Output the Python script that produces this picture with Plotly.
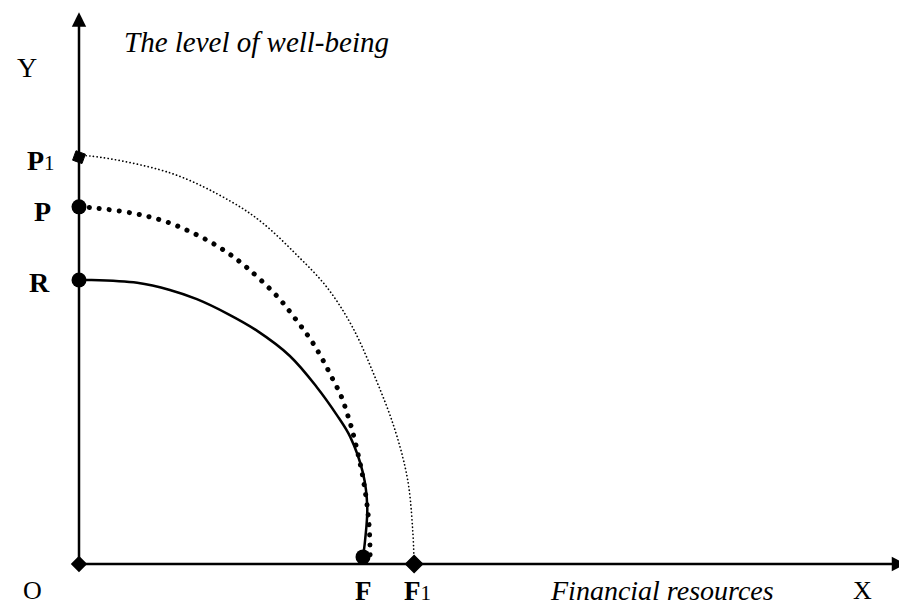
import plotly.graph_objects as go

# ---- data (chart units; origin O = (0, 0)) ----
solid_x = [0, 0.15, 0.82, 1.28, 1.66, 2.10, 2.50, 2.97, 3.35, 3.63, 3.82, 4.00, 4.06, 4.03, 4.00]
solid_y = [4.00, 4.00, 3.96, 3.86, 3.73, 3.52, 3.29, 2.93, 2.49, 2.10, 1.79, 1.28, 0.80, 0.34, 0.10]

dotted_x = [0, 0.17, 0.76, 1.20, 1.61, 2.01, 2.37, 2.80, 3.08, 3.27, 3.42, 3.56, 3.69, 3.79, 3.87, 4.00, 4.08, 4.10, 4.10]
dotted_y = [5.03, 5.02, 4.94, 4.83, 4.66, 4.44, 4.17, 3.76, 3.41, 3.15, 2.90, 2.63, 2.37, 2.08, 1.80, 1.21, 0.62, 0.17, 0.06]

thin_x = [0, 0.08, 1.28, 2.15, 2.59, 3.07, 3.49, 3.85, 4.17, 4.45, 4.63, 4.70, 4.72]
thin_y = [5.73, 5.75, 5.51, 5.10, 4.80, 4.35, 3.90, 3.34, 2.63, 1.89, 1.18, 0.48, 0.00]

circle_x = [0, 0, 4.00]          # R, P, F
circle_y = [4.00, 5.03, 0.10]
p1_point = (0, 5.73)
f1_point = (4.72, 0)
o_point = (0, 0)

y_axis_tip = 7.77
x_axis_tip = 11.65

FONT = "Liberation Serif, Times New Roman, serif"

fig = go.Figure()

fig.add_trace(go.Scatter(x=thin_x, y=thin_y, mode="lines",
                         line=dict(color="black", width=1.7, dash="0.1px,3.6px",
                                   shape="spline", smoothing=1.0)))
fig.add_trace(go.Scatter(x=dotted_x, y=dotted_y, mode="lines",
                         line=dict(color="black", width=5, dash="0.1px,10px",
                                   shape="spline", smoothing=1.0)))
fig.add_trace(go.Scatter(x=solid_x, y=solid_y, mode="lines",
                         line=dict(color="black", width=2.5,
                                   shape="spline", smoothing=1.0)))

fig.add_trace(go.Scatter(x=circle_x, y=circle_y, mode="markers",
                         marker=dict(symbol="circle", size=15, color="black")))
fig.add_trace(go.Scatter(x=[p1_point[0]], y=[p1_point[1]], mode="markers",
                         marker=dict(symbol="square", size=10, color="black", angle=20,
                                     line=dict(color="black", width=1))))
fig.add_trace(go.Scatter(x=[f1_point[0]], y=[f1_point[1]], mode="markers",
                         marker=dict(symbol="diamond", size=13, color="#000000", opacity=1,
                                     line=dict(color="#000000", width=1.5))))
fig.add_trace(go.Scatter(x=[o_point[0]], y=[o_point[1]], mode="markers",
                         marker=dict(symbol="diamond", size=11, color="#000000", opacity=1,
                                     line=dict(color="#000000", width=1.5))))

# axes with arrows
for tip in [(0, y_axis_tip), (x_axis_tip, 0)]:
    fig.add_annotation(x=tip[0], y=tip[1], ax=0, ay=0, axref="x", ayref="y",
                       xref="x", yref="y", text="", showarrow=True,
                       arrowhead=2, arrowsize=1.15, arrowwidth=2.5, arrowcolor="black")

def label(x, y, text, anchor="center", size=28):
    fig.add_annotation(x=x, y=y, xref="x", yref="y", text=text, showarrow=False,
                       xanchor=anchor, yanchor="middle",
                       font=dict(family=FONT, size=size, color="black"))

small = "<span style='font-size:21px'>1</span>"
label(-0.73, 6.99, "Y")
label(0.61, 7.35, "<i>The level of well-being</i>", anchor="left", size=29)
label(-0.54, 5.69, "<b>P</b>" + small)
label(-0.51, 4.96, "<b>P</b>")
label(-0.55, 3.96, "<b>R</b>")
label(-0.65, -0.37, "O", size=26)
label(4.00, -0.38, "<b>F</b>", size=27)
label(4.77, -0.38, "<b>F</b>" + small, size=27)
label(6.61, -0.38, "<i>Financial resources</i>", anchor="left", size=28)
label(11.03, -0.37, "X", size=26)

# the page places the figure 8 px from the top-left corner; ranges compensate
fig.update_layout(
    width=899, height=598,
    margin=dict(l=0, r=0, t=0, b=0),
    paper_bgcolor="white", plot_bgcolor="white",
    showlegend=False,
    xaxis=dict(range=[(8 - 79) / 71, (907 - 79) / 71], visible=False, fixedrange=True),
    yaxis=dict(range=[-(606 - 564) / 71, (564 - 8) / 71], visible=False, fixedrange=True),
)

round_caps = ("var s=document.createElement('style');"
              "s.textContent='.js-line{stroke-linecap:round;}';"
              "document.head.appendChild(s);")
fig.write_html("out.html", post_script=round_caps)
